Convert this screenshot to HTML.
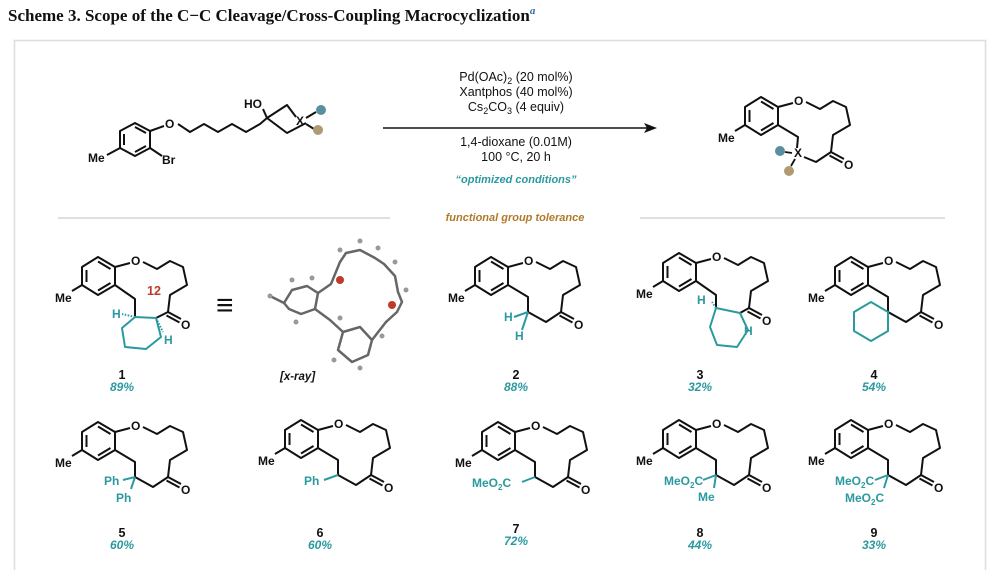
<!DOCTYPE html>
<html><head><meta charset="utf-8"><style>
html,body{margin:0;padding:0;background:#fff;width:1000px;height:570px;overflow:hidden}
svg{display:block}
.t{font-family:"Liberation Sans",sans-serif;font-size:12px;font-weight:bold;fill:#111}
.r{font-family:"Liberation Sans",sans-serif;font-size:12.5px;fill:#111}
.tl{fill:#2a9aa0}
.pc{font-family:"Liberation Sans",sans-serif;font-size:12px;font-weight:bold;font-style:italic;fill:#2a9aa0}
.n{font-family:"Liberation Sans",sans-serif;font-size:12.5px;font-weight:bold;fill:#111}
.b{fill:none;stroke:#111;stroke-width:2;stroke-linejoin:round}
.bt{fill:none;stroke:#2a9aa0;stroke-width:2;stroke-linejoin:round}
</style></head><body>
<svg width="1000" height="570" viewBox="0 0 1000 570" xmlns="http://www.w3.org/2000/svg">
<defs>
<g id="up">
  <path class="b" d="M27,-35 L43,-45 L60,-35 L60,-17 L43,-7 L27,-17 Z"/>
  <path class="b" d="M31.5,-32 L31.5,-20 M43,-40.5 L55.5,-33 M43,-11.5 L55.5,-19"/>
  <path class="b" d="M27,-17 L17,-11 M60,-35 L75,-39"/>
  <path class="b" d="M88,-40 L102,-33 L115,-41 L128,-35 L132,-17 L115,-7 L113,10"/>
  <path class="b" d="M113,10 L126,17 M111.5,13.5 L124.5,20.5"/>
  <text class="t" x="0" y="0">Me</text>
  <text class="t" x="76" y="-37">O</text>
  <text class="t" x="126" y="27">O</text>
</g>
<g id="mc">
  <use href="#up"/>
  <path class="b" d="M113,10 L98,20 L80,10 L80,-5 L60,-17"/>
</g>
</defs>

<text x="8" y="21" font-family="Liberation Serif,serif" font-size="17" font-weight="bold" fill="#111">Scheme 3. Scope of the C−C Cleavage/Cross-Coupling Macrocyclization<tspan font-style="italic" font-size="11" dy="-7" fill="#2a6fb0">a</tspan></text>
<rect x="14.5" y="40.5" width="971" height="540" fill="none" stroke="#ddd" stroke-width="1.5"/>

<!-- starting material -->
<path class="b" d="M120,131 L135,123 L150,131 L150,148 L135,156 L120,148 Z"/>
<path class="b" d="M124,134 L124,145 M135,127 L146,133 M135,152 L146,146"/>
<path class="b" d="M120,148 L107,155 M150,148 L162,156 M150,131 L164,126"/>
<path class="b" d="M178,124 L190,132 L204,124 L218,132 L232,124 L246,132 L260,124 L267,118"/>
<path class="b" d="M267,118 L287,105 L296,117 M306,123 L287,133 L267,118"/>
<path class="b" d="M267,118 L263,109"/>
<path class="b" d="M306,118 L316,112 M306,124 L314,129"/>
<text class="t" x="88" y="162">Me</text>
<text class="t" x="162" y="164">Br</text>
<text class="t" x="165" y="128">O</text>
<text class="t" x="244" y="108">HO</text>
<text class="t" x="296" y="125">X</text>
<circle cx="321" cy="110" r="5" fill="#5a8fa0"/><circle cx="318" cy="130" r="5" fill="#b09a75"/>

<!-- reagents -->
<g text-anchor="middle">
<text class="r" x="516" y="81">Pd(OAc)<tspan font-size="9" dy="3">2</tspan><tspan dy="-3"> (20 mol%)</tspan></text>
<text class="r" x="516" y="96">Xantphos (40 mol%)</text>
<text class="r" x="516" y="111">Cs<tspan font-size="9" dy="3">2</tspan><tspan dy="-3">CO</tspan><tspan font-size="9" dy="3">3</tspan><tspan dy="-3"> (4 equiv)</tspan></text>
<text class="r" x="516" y="146">1,4-dioxane (0.01M)</text>
<text class="r" x="516" y="161">100 °C, 20 h</text>
<text x="516" y="183" font-family="Liberation Sans,sans-serif" font-size="11" font-weight="bold" font-style="italic" fill="#2a9aa0">“optimized conditions”</text>
<text x="515" y="221" font-family="Liberation Sans,sans-serif" font-size="11" font-weight="bold" font-style="italic" fill="#b07a2a">functional group tolerance</text>
</g>
<line x1="383" y1="128" x2="648" y2="128" stroke="#111" stroke-width="1.6"/>
<path d="M657,128 L644,123 L647,128 L644,133 Z" fill="#111"/>
<line x1="58" y1="218" x2="390" y2="218" stroke="#ccc" stroke-width="1.2"/>
<line x1="640" y1="218" x2="945" y2="218" stroke="#ccc" stroke-width="1.2"/>

<!-- top product -->
<g transform="translate(718,142)"><use href="#up"/>
<path class="b" d="M113,10 L98,20 L86,15 M79,6 L80,-5 L60,-17"/></g>
<text class="t" x="794" y="157">X</text>
<line x1="792" y1="153" x2="785" y2="152" stroke="#111" stroke-width="1.8"/>
<line x1="795" y1="159" x2="791" y2="166" stroke="#111" stroke-width="1.8"/>
<circle cx="780" cy="151" r="5" fill="#5a8fa0"/><circle cx="789" cy="171" r="5" fill="#b09a75"/>

<!-- product 1 -->
<g transform="translate(55,302)"><use href="#up"/>
<path class="b" d="M60,-17 L80,-3 L80,15 M101,16 L113,10"/></g>
<path class="bt" d="M135,317 L156,318 L161,337 L146,349 L125,347 L122,328 Z"/>
<path d="M135,317 L122,314 M156,318 L163,332" stroke="#2a9aa0" stroke-width="2" stroke-dasharray="1.5,1.5"/>
<text class="t tl" x="112" y="318">H</text><text class="t tl" x="164" y="344">H</text>
<text x="147" y="295" font-family="Liberation Sans,sans-serif" font-size="12.5" font-weight="bold" fill="#c0392b">12</text>
<g font-family="Liberation Sans,sans-serif" font-size="30" fill="#111"><text x="216" y="315">≡</text></g>

<!-- x-ray approximation -->
<g fill="none" stroke="#666" stroke-width="2.5" stroke-linecap="round" stroke-linejoin="round">
<path d="M284,303 L292,290 L307,286 L318,293 L315,309 L301,314 L289,309 Z"/>
<path d="M284,303 L270,296 M318,293 L331,284 L340,262 L346,253 L360,250 L375,258 L384,264 L395,276 L398,292 L402,302 L397,312 L386,322"/>
<path d="M315,309 L330,320 L343,332 L338,350 L352,362 L368,355 L372,340 L360,327 L343,332 M372,340 L386,322"/>
</g>
<g fill="#999">
<circle cx="270" cy="296" r="2.5"/><circle cx="292" cy="280" r="2.5"/><circle cx="312" cy="278" r="2.5"/><circle cx="296" cy="322" r="2.5"/><circle cx="340" cy="250" r="2.5"/><circle cx="360" cy="241" r="2.5"/><circle cx="378" cy="248" r="2.5"/><circle cx="395" cy="262" r="2.5"/><circle cx="406" cy="290" r="2.5"/><circle cx="334" cy="360" r="2.5"/><circle cx="360" cy="368" r="2.5"/><circle cx="382" cy="336" r="2.5"/><circle cx="340" cy="318" r="2.5"/>
</g>
<circle cx="340" cy="280" r="4" fill="#c0392b"/><circle cx="392" cy="305" r="4" fill="#c0392b"/>
<text x="280" y="380" font-family="Liberation Sans,sans-serif" font-size="11.5" font-weight="bold" font-style="italic" fill="#111">[x-ray]</text>

<!-- product 2 -->
<g transform="translate(448,302)"><use href="#mc"/></g>
<text class="t tl" x="504" y="321">H</text><text class="t tl" x="515" y="340">H</text>
<path d="M514,317 L528,312 M522,330 L528,312" stroke="#2a9aa0" stroke-width="2"/>

<!-- product 3 -->
<g transform="translate(636,298)"><use href="#up"/>
<path class="b" d="M60,-17 L80,-3 L80,10 M104,15 L113,10"/></g>
<path class="bt" d="M716,308 L740,313 L748,330 L737,347 L717,345 L710,327 Z"/>
<path d="M716,308 L712,302 M740,313 L746,326" stroke="#2a9aa0" stroke-width="2" stroke-dasharray="1.5,1.5"/>
<text class="t tl" x="697" y="304">H</text><text class="t tl" x="744" y="335">H</text>

<!-- product 4 -->
<g transform="translate(808,302)"><use href="#mc"/></g>
<path class="bt" d="M888,312 L871,302 L854,312 L854,331 L871,341 L888,331 Z"/>

<!-- row 2 -->
<g transform="translate(55,467)"><use href="#mc"/></g>
<path d="M135,477 L123,480 M135,477 L131,489" stroke="#2a9aa0" stroke-width="2"/>
<text class="t tl" x="104" y="485">Ph</text><text class="t tl" x="116" y="502">Ph</text>

<g transform="translate(258,465)"><use href="#mc"/></g>
<path d="M338,475 L324,480" stroke="#2a9aa0" stroke-width="2"/>
<text class="t tl" x="304" y="485">Ph</text>

<g transform="translate(455,467)"><use href="#mc"/></g>
<path d="M535,477 L522,482" stroke="#2a9aa0" stroke-width="2"/>
<text class="t tl" x="472" y="487">MeO<tspan font-size="8" dy="3">2</tspan><tspan dy="-3">C</tspan></text>

<g transform="translate(636,465)"><use href="#mc"/></g>
<path d="M716,475 L703,480 M716,475 L714,488" stroke="#2a9aa0" stroke-width="2"/>
<text class="t tl" x="664" y="485">MeO<tspan font-size="8" dy="3">2</tspan><tspan dy="-3">C</tspan></text>
<text class="t tl" x="698" y="501">Me</text>

<g transform="translate(808,465)"><use href="#mc"/></g>
<path d="M888,475 L875,480 M888,475 L884,488" stroke="#2a9aa0" stroke-width="2"/>
<text class="t tl" x="835" y="485">MeO<tspan font-size="8" dy="3">2</tspan><tspan dy="-3">C</tspan></text>
<text class="t tl" x="845" y="502">MeO<tspan font-size="8" dy="3">2</tspan><tspan dy="-3">C</tspan></text>

<!-- labels -->
<g text-anchor="middle">
<text class="n" x="122" y="379">1</text><text class="pc" x="122" y="391">89%</text>
<text class="n" x="516" y="379">2</text><text class="pc" x="516" y="391">88%</text>
<text class="n" x="700" y="379">3</text><text class="pc" x="700" y="391">32%</text>
<text class="n" x="874" y="379">4</text><text class="pc" x="874" y="391">54%</text>
<text class="n" x="122" y="537">5</text><text class="pc" x="122" y="549">60%</text>
<text class="n" x="320" y="537">6</text><text class="pc" x="320" y="549">60%</text>
<text class="n" x="516" y="533">7</text><text class="pc" x="516" y="545">72%</text>
<text class="n" x="700" y="537">8</text><text class="pc" x="700" y="549">44%</text>
<text class="n" x="874" y="537">9</text><text class="pc" x="874" y="549">33%</text>
</g>
</svg>
</body></html>
